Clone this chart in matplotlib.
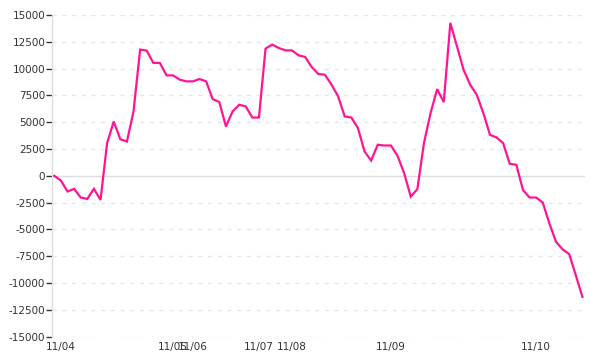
import matplotlib
matplotlib.use("Agg")
import matplotlib.pyplot as plt
import matplotlib.transforms as mtransforms
import numpy as np

values = [0, -440, -1460, -1210, -2020, -2150, -1210, -2240, 3050, 5070,
          3420, 3200, 6000, 11770, 11680, 10530, 10530, 9370, 9370, 8970,
          8810, 8810, 9030, 8810, 7160, 6880, 4600, 6000, 6630, 6470,
          5440, 5440, 11860, 12240, 11930, 11700, 11700, 11240, 11090, 10150,
          9500, 9430, 8500, 7410, 5540, 5440, 4460, 2270, 1430, 2900,
          2830, 2830, 1870, 250, -1930, -1240, 3050, 5850, 8090, 6880,
          14260, 12080, 9900, 8500, 7560, 5850, 3830, 3580, 3050, 1120,
          1030, -1310, -2020, -2020, -2490, -4420, -6140, -6850, -7290, -9250,
          -11280]
tick_idx = [0, 17, 20, 30, 35, 50, 72]
tick_labels = ["11/04", "11/05", "11/06", "11/07", "11/08", "11/09", "11/10"]
y_ticks = list(range(-15000, 15001, 2500))

fig = plt.figure(figsize=(6, 3.6), dpi=100)
ax = fig.add_axes([52/600, (360-336.7)/360, 533/600, 321.7/360])

x = np.arange(len(values))
ax.plot(x, values, color="#ff1493", lw=1.6, solid_joinstyle="miter", zorder=3)

ax.set_xlim(-0.35, len(values) - 1 + 0.4)
ax.set_ylim(-15000, 15000)
ax.set_yticks(y_ticks)
ax.set_yticklabels([str(v) for v in y_ticks])
ax.set_xticks(tick_idx)
ax.set_xticklabels(tick_labels)

for v in y_ticks:
    if v == 0:
        continue
    ax.axhline(v, color="#e6e6e6", lw=1, ls=(0, (3, 4)), zorder=1)
ax.axhline(0, color="#dddddd", lw=1, zorder=2)

for s in ["top", "right", "bottom"]:
    ax.spines[s].set_visible(False)
ax.spines["left"].set_color("#dddddd")
ax.spines["left"].set_linewidth(1)

ax.tick_params(axis="y", length=4.3, width=1, color="#333333", pad=0.5,
               labelsize=7.5, labelcolor="#333333")
ax.tick_params(axis="x", length=0, pad=4, labelsize=7.5, labelcolor="#333333")

offset = mtransforms.ScaledTranslation(6/100, 0, fig.dpi_scale_trans)
for lab in ax.get_xticklabels():
    lab.set_transform(lab.get_transform() + offset)

fig.savefig("out.png", dpi=100)
